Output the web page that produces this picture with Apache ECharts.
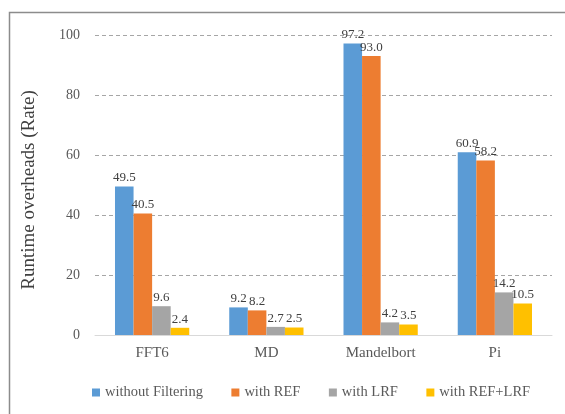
<!DOCTYPE html>
<html>
<head>
<meta charset="utf-8">
<script src="https://cdn.jsdelivr.net/npm/echarts@6/dist/echarts.min.js"></script>
<style>
  html, body { margin: 0; padding: 0; background: #fff; }
  #chart { width: 565px; height: 414px; }
</style>
</head>
<body>
<div id="chart"></div>
<script>
// Benchmarks and runtime overhead rates per filtering mode
const categories = ['FFT6', 'MD', 'Mandelbort', 'Pi'];
const seriesNames = ['without Filtering', 'with REF', 'with LRF', 'with REF+LRF'];
const withoutFiltering = [49.5, 9.2, 97.2, 60.9];
const withREF = [40.5, 8.2, 93.0, 58.2];
const withLRF = [9.6, 2.7, 4.2, 14.2];
const withREFLRF = [2.4, 2.5, 3.5, 10.5];
const yTicks = [0, 20, 40, 60, 80, 100];

const colors = ['#5b9bd5', '#ed7d31', '#a5a5a5', '#ffc000'];
const values = [withoutFiltering, withREF, withLRF, withREFLRF];
const font = '"Liberation Serif", "Times New Roman", serif';

const chart = echarts.init(document.getElementById('chart'), null, { renderer: 'canvas' });

chart.setOption({
  animation: false,
  color: colors,
  graphic: [{
    type: 'rect',
    shape: { x: 9.5, y: 12.5, width: 620, height: 450 },
    style: { fill: 'none', stroke: '#8c8c8c', lineWidth: 1.5 },
    silent: true
  }],
  grid: { left: 95, right: 13, top: 35, bottom: 79 },
  legend: {
    data: seriesNames,
    left: 87,
    top: 380,
    itemWidth: 8,
    itemHeight: 8,
    itemGap: 28.5,
    icon: 'rect',
    textStyle: { fontFamily: font, fontSize: 14.5, color: '#595959' }
  },
  xAxis: {
    type: 'category',
    data: categories,
    axisLine: { lineStyle: { color: '#d9d9d9', width: 1 } },
    axisTick: { show: false },
    axisLabel: { fontFamily: font, fontSize: 15, color: '#595959', margin: 11 }
  },
  yAxis: {
    type: 'value',
    min: yTicks[0],
    max: yTicks[yTicks.length - 1],
    interval: yTicks[1] - yTicks[0],
    name: 'Runtime overheads (Rate)',
    nameLocation: 'middle',
    nameGap: 56,
    nameTextStyle: { fontFamily: font, fontSize: 19, color: '#404040', padding: [0, 0, 0, -10] },
    axisLine: { show: false },
    axisTick: { show: false },
    axisLabel: { fontFamily: font, fontSize: 14, color: '#595959', margin: 15 },
    splitLine: { lineStyle: { color: '#a6a6a6', type: [4, 3], width: 1 } }
  },
  series: seriesNames.map((name, i) => ({
    name,
    type: 'bar',
    data: values[i],
    barGap: '0%',
    barCategoryGap: '35%',
    label: {
      show: true,
      position: 'top',
      distance: 2,
      formatter: p => p.value.toFixed(1),
      fontFamily: font,
      fontSize: 13,
      color: '#404040'
    }
  }))
});
</script>
</body>
</html>
